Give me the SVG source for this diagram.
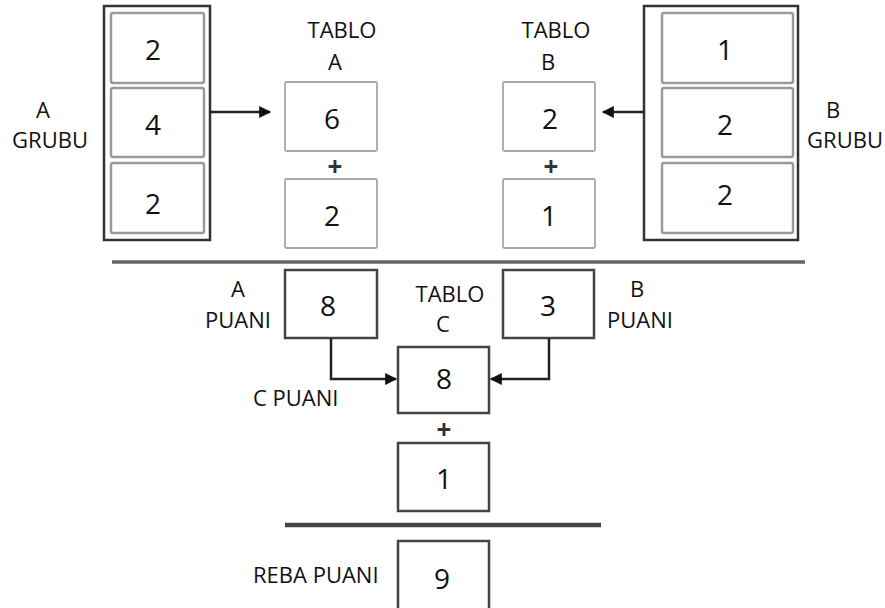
<svg xmlns="http://www.w3.org/2000/svg" width="885" height="608" viewBox="0 0 885 608">
<style>
text{font-family:"Open Sans","Liberation Sans",sans-serif;fill:#111}
.lbl{font-size:22px;text-anchor:middle}
.lbll{font-size:22px}
.num{font-size:28px;text-anchor:middle}
.outer{fill:#fff;stroke:#333;stroke-width:2.5}
.inner{fill:#fff;stroke:#9a9a9a;stroke-width:2.5}
.tab{fill:#fff;stroke:#a8a8a8;stroke-width:1.8}
.bot{fill:#fff;stroke:#444;stroke-width:2.5}
.plus{font-size:26px;font-weight:bold;text-anchor:middle;fill:#333}
.conn{fill:none;stroke:#222;stroke-width:2.5}
.rule{stroke:#666;stroke-width:3.5}
</style>
<defs>
<marker id="ah" viewBox="0 0 10 10" refX="9" refY="5" markerWidth="5.5" markerHeight="4.8" markerUnits="strokeWidth" orient="auto">
<path d="M0,0 L10,5 L0,10 Z" fill="#111"/>
</marker>
</defs>
<rect width="885" height="608" fill="#fff"/>

<g id="grup-a">
<rect class="outer" x="104" y="6" width="106" height="234"/>
<rect class="inner" x="111" y="13" width="93" height="70" rx="2"/>
<rect class="inner" x="111" y="88" width="93" height="69" rx="2"/>
<rect class="inner" x="111" y="163" width="93" height="70" rx="2"/>
<text class="num" x="153" y="60">2</text>
<text class="num" x="153" y="135">4</text>
<text class="num" x="153" y="214">2</text>
<text class="lbl" x="43" y="118">A</text>
<text class="lbl" x="50" y="148">GRUBU</text>
</g>

<g id="grup-b">
<rect class="outer" x="644" y="6" width="154" height="234"/>
<rect class="inner" x="662" y="13" width="131" height="70" rx="2"/>
<rect class="inner" x="662" y="88" width="131" height="69" rx="2"/>
<rect class="inner" x="662" y="163" width="131" height="70" rx="2"/>
<text class="num" x="725" y="60">1</text>
<text class="num" x="725" y="135">2</text>
<text class="num" x="725" y="205">2</text>
<text class="lbl" x="833" y="118">B</text>
<text class="lbl" x="845" y="148">GRUBU</text>
</g>

<g id="tablo-a">
<text class="lbl" x="342" y="38">TABLO</text>
<text class="lbl" x="335" y="70">A</text>
<rect class="tab" x="285" y="82" width="92" height="69" rx="1.5"/>
<text class="num" x="332" y="129">6</text>
<text class="plus" x="335" y="176">+</text>
<rect class="tab" x="285" y="179" width="92" height="69" rx="1.5"/>
<text class="num" x="332" y="226">2</text>
</g>

<g id="tablo-b">
<text class="lbl" x="556" y="38">TABLO</text>
<text class="lbl" x="548" y="70">B</text>
<rect class="tab" x="503" y="82" width="92" height="69" rx="1.5"/>
<text class="num" x="550" y="129">2</text>
<text class="plus" x="551" y="176">+</text>
<rect class="tab" x="503" y="179" width="92" height="69" rx="1.5"/>
<text class="num" x="549" y="226">1</text>
</g>

<g id="rules">
<line class="rule" x1="112" y1="262" x2="805" y2="262"/>
<line x1="285" y1="525" x2="601" y2="525" stroke="#444" stroke-width="4.5"/>
</g>

<g id="a-puani">
<rect class="bot" x="285" y="270" width="92" height="68"/>
<text class="num" x="328" y="316">8</text>
<text class="lbl" x="238" y="297">A</text>
<text class="lbl" x="238" y="328">PUANI</text>
</g>

<g id="b-puani">
<rect class="bot" x="503" y="270" width="91" height="68"/>
<text class="num" x="548" y="316">3</text>
<text class="lbl" x="637" y="297">B</text>
<text class="lbl" x="640" y="328">PUANI</text>
</g>

<g id="tablo-c">
<text class="lbl" x="450" y="302">TABLO</text>
<text class="lbl" x="443" y="332">C</text>
<rect class="bot" x="398" y="347" width="91" height="66"/>
<text class="num" x="444" y="389">8</text>
<text class="lbll" x="253" y="406">C PUANI</text>
<text class="plus" x="444" y="439">+</text>
<rect class="bot" x="398" y="443" width="91" height="68"/>
<text class="num" x="444" y="489">1</text>
</g>

<g id="reba-puani">
<rect class="bot" x="398" y="541" width="91" height="70"/>
<text class="num" x="442" y="589">9</text>
<text class="lbll" x="253" y="583">REBA PUANI</text>
</g>

<g id="connectors">
<line class="conn" x1="210" y1="112" x2="270" y2="112" marker-end="url(#ah)"/>
<line class="conn" x1="644" y1="112" x2="603" y2="112" marker-end="url(#ah)"/>
<polyline class="conn" points="331,338 331,379 396,379" marker-end="url(#ah)"/>
<polyline class="conn" points="549,338 549,379 491,379" marker-end="url(#ah)"/>
</g>
</svg>
